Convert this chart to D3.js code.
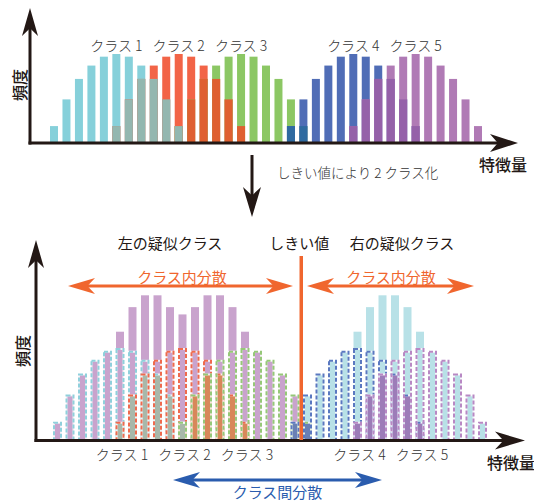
<!DOCTYPE html>
<html>
<head>
<meta charset="utf-8">
<script src="https://cdn.jsdelivr.net/npm/d3@7/dist/d3.min.js"></script>
<style>
  body { margin: 0; background: #fff; }
  text { font-family: "Noto Sans CJK JP", "Noto Sans", sans-serif; }
</style>
</head>
<body>
<svg id="chart" width="534" height="502"></svg>
<script>
// ヒストグラムのビン数
var binCount = 35;
var classNames = ['クラス 1', 'クラス 2', 'クラス 3', 'クラス 4', 'クラス 5'];
// 各クラスの開始ビン
var classStart = [0, 5, 10, 19, 24];
// 各クラスの頻度
var class1 = [1.9, 4.9, 7.2, 8.7, 9.7, 10, 9.7, 8.7, 7.2, 4.9, 1.9];
var class2 = [1.9, 4.9, 7.2, 8.7, 9.7, 10, 9.7, 8.7, 7.2, 4.9, 1.9];
var class3 = [1.9, 4.9, 7.2, 8.7, 9.7, 10, 9.7, 8.7, 7.2, 4.9, 1.9];
var class4 = [1.9, 4.9, 7.2, 8.7, 9.7, 10, 9.7, 8.7, 7.2, 4.9, 1.9];
var class5 = [1.9, 4.9, 7.2, 8.7, 9.7, 10, 9.7, 8.7, 7.2, 4.9, 1.9];
var peakIndex = 5;
// しきい値（ビン19と20の間）
var thresholdBin = 19.5;
var leftClasses = [0, 1, 2];
var rightClasses = [3, 4];

(function() {
  var classValues = [class1, class2, class3, class4, class5];

  var colors = ['#86d0da', '#f26447', '#8cc764', '#506db6', '#b07ab5'];
  var dashColors = ['#8fd0dc', '#ee6a4e', '#96c878', '#5a78c0', '#b888c4'];
  // 重なり部分の色
  var overlaps = [
    { a: 1, b: 2, top: '#df6031', bottom: '#d8875a' },
    { a: 0, b: 1, top: '#93b7b0', bottom: '#a8b8aa' },
    { a: 2, b: 3, top: '#2f6aa0', bottom: '#6a80b4' },
    { a: 3, b: 4, top: '#9561a9', bottom: '#9c7cb8' }
  ];

  // ビンごとの値
  var series = classValues.map(function(vals, c) {
    return vals.map(function(v, i) {
      return { cls: c, bin: classStart[c] + i, value: v };
    });
  });

  function valueAt(c, bin) {
    var i = bin - classStart[c];
    return i >= 0 && i < classValues[c].length ? classValues[c][i] : 0;
  }

  var bins = d3.range(binCount);

  var svg = d3.select('#chart');
  var ink = '#231815';

  var xTop = d3.scaleLinear().domain([0, binCount - 1]).range([54, 478]);
  var yTop = d3.scaleLinear().domain([0, 10]).range([143, 54]);
  var xBot = d3.scaleLinear().domain([0, binCount - 1]).range([57.5, 482.5]);
  var yBot = d3.scaleLinear().domain([0, 10]).range([440, 349]);

  // 矢印の頭
  function head(g, x, y, angle, len, half, color) {
    g.append('path')
      .attr('d', 'M0,0 L' + (-len) + ',' + (-half) + ' L' + (-len * 0.72) + ',0 L' + (-len) + ',' + half + ' Z')
      .attr('transform', 'translate(' + x + ',' + y + ') rotate(' + angle + ')')
      .attr('fill', color);
  }

  function arrow(x1, y1, x2, y2, color, width, len, half, both) {
    var g = svg.append('g');
    var ang = Math.atan2(y2 - y1, x2 - x1) * 180 / Math.PI;
    var dx = Math.cos(ang * Math.PI / 180) * len * 0.7;
    var dy = Math.sin(ang * Math.PI / 180) * len * 0.7;
    g.append('line')
      .attr('x1', both ? x1 + dx : x1).attr('y1', both ? y1 + dy : y1)
      .attr('x2', x2 - dx).attr('y2', y2 - dy)
      .attr('stroke', color).attr('stroke-width', width);
    head(g, x2, y2, ang, len, half, color);
    if (both) head(g, x1, y1, ang + 180, len, half, color);
  }

  function label(x, y, str, size, color, weight) {
    return svg.append('text')
      .attr('x', x).attr('y', y)
      .attr('text-anchor', 'middle')
      .attr('font-size', size)
      .attr('font-weight', weight || 400)
      .attr('fill', color)
      .text(str);
  }

  // ===== 上のヒストグラム =====
  var top = svg.append('g');
  series.forEach(function(s, c) {
    top.selectAll(null)
      .data(s)
      .enter()
      .append('rect')
      .attr('x', function(d) { return xTop(d.bin) - 4; })
      .attr('y', function(d) { return yTop(d.value); })
      .attr('width', 8)
      .attr('height', function(d) { return yTop(0) - yTop(d.value); })
      .attr('fill', colors[c]);
  });

  overlaps.forEach(function(o) {
    var data = bins.map(function(b) {
      return { bin: b, value: Math.min(valueAt(o.a, b), valueAt(o.b, b)) };
    }).filter(function(d) { return d.value > 0; });
    top.selectAll(null)
      .data(data)
      .enter()
      .append('rect')
      .attr('x', function(d) { return xTop(d.bin) - 4; })
      .attr('y', function(d) { return yTop(d.value); })
      .attr('width', 8)
      .attr('height', function(d) { return yTop(0) - yTop(d.value); })
      .attr('fill', o.top);
  });

  // 軸
  svg.append('line').attr('x1', 30).attr('y1', 144.5).attr('x2', 30).attr('y2', 25)
    .attr('stroke', ink).attr('stroke-width', 3);
  head(svg, 30, 8, -90, 28, 8, ink);
  arrow(28.5, 143, 518, 143, ink, 3, 28, 9, false);

  classNames.forEach(function(n, c) {
    label(xTop(classStart[c] + peakIndex), 51, n, 14, '#333', 300);
  });
  label(503, 171, '特徴量', 16, ink, 500);
  label(0, 0, '頻度', 16, ink, 500).attr('transform', 'translate(26,85) rotate(-90)');

  // 中間の矢印
  arrow(252, 155, 252, 217, ink, 3, 30, 9, false);
  svg.append('text').attr('x', 277).attr('y', 178)
    .attr('font-size', 13.5).attr('fill', '#333').attr('font-weight', 300)
    .text('しきい値により 2 クラス化');

  // ===== 下のヒストグラム =====
  var bot = svg.append('g');

  // 疑似クラスの合計
  function sumSeries(list) {
    return bins.map(function(b) {
      return { bin: b, value: d3.sum(list, function(c) { return valueAt(c, b); }) };
    }).filter(function(d) { return d.value > 0; });
  }
  [[leftClasses, '#c9a3cd'], [rightClasses, '#b8e1e7']].forEach(function(p) {
    bot.selectAll(null)
      .data(sumSeries(p[0]))
      .enter()
      .append('rect')
      .attr('x', function(d) { return xBot(d.bin) - 4; })
      .attr('y', function(d) { return yBot(d.value); })
      .attr('width', 8)
      .attr('height', function(d) { return yBot(0) - yBot(d.value); })
      .attr('fill', p[1]);
  });

  overlaps.forEach(function(o) {
    var data = bins.map(function(b) {
      return { bin: b, value: Math.min(valueAt(o.a, b), valueAt(o.b, b)) };
    }).filter(function(d) { return d.value > 0; });
    bot.selectAll(null)
      .data(data)
      .enter()
      .append('rect')
      .attr('x', function(d) { return xBot(d.bin) - 4; })
      .attr('y', function(d) { return yBot(d.value); })
      .attr('width', 8)
      .attr('height', function(d) { return yBot(0) - yBot(d.value); })
      .attr('fill', o.bottom);
  });

  // 元クラスの破線
  series.forEach(function(s, c) {
    var g = bot.selectAll(null)
      .data(s)
      .enter();
    g.append('rect')
      .attr('x', function(d) { return xBot(d.bin) - 3.5; })
      .attr('y', function(d) { return yBot(d.value); })
      .attr('width', 7)
      .attr('height', function(d) { return yBot(0) - yBot(d.value); })
      .attr('fill', 'none')
      .attr('stroke', '#fff')
      .attr('stroke-opacity', 0.8)
      .attr('stroke-width', 2);
    g.append('rect')
      .attr('x', function(d) { return xBot(d.bin) - 3.5; })
      .attr('y', function(d) { return yBot(d.value); })
      .attr('width', 7)
      .attr('height', function(d) { return yBot(0) - yBot(d.value); })
      .attr('fill', 'none')
      .attr('stroke', dashColors[c])
      .attr('stroke-width', 2)
      .attr('stroke-dasharray', '4,2');
  });

  // 軸
  svg.append('line').attr('x1', 36).attr('y1', 442).attr('x2', 36).attr('y2', 258)
    .attr('stroke', ink).attr('stroke-width', 3);
  head(svg, 36, 240, -90, 28, 8, ink);
  arrow(34.5, 440.5, 525, 440.5, ink, 3, 30, 9, false);

  // しきい値
  var tx = (xBot(Math.floor(thresholdBin)) + xBot(Math.ceil(thresholdBin))) / 2;
  svg.append('line').attr('x1', tx).attr('y1', 256).attr('x2', tx).attr('y2', 440)
    .attr('stroke', '#f0662e').attr('stroke-width', 3.5);

  arrow(68, 286, 293, 286, '#f0662e', 3, 27, 8, true);
  arrow(307, 286, 474, 286, '#f0662e', 3, 27, 8, true);
  label(182, 283, 'クラス内分散', 15, '#f0662e', 400);
  label(391, 283, 'クラス内分散', 15, '#f0662e', 400);

  label(170, 249, '左の疑似クラス', 15, ink, 400);
  label(tx - 2, 249, 'しきい値', 15, ink, 400);
  label(402, 249, '右の疑似クラス', 15, ink, 400);

  classNames.forEach(function(n, c) {
    label(xBot(classStart[c] + peakIndex) + 2, 460, n, 14, '#333', 300);
  });
  label(511, 469, '特徴量', 16, ink, 500);
  label(0, 0, '頻度', 16, ink, 500).attr('transform', 'translate(29,351) rotate(-90)');

  arrow(173, 480, 382, 480, '#2a5cae', 3, 27, 8, true);
  label(277.5, 498, 'クラス間分散', 15, '#2a5cae', 400);
}());
</script>
</body>
</html>
